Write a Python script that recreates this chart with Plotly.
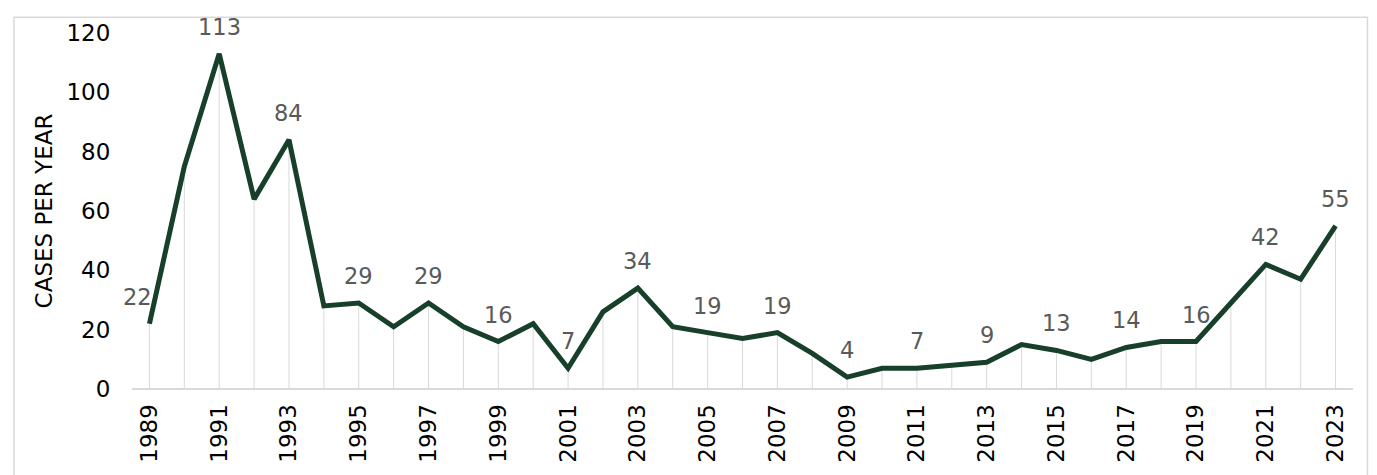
import plotly.graph_objects as go

years = list(range(1989, 2024))
cases = [22, 75, 113, 64, 84, 28, 29, 21, 29, 21,
         16, 22, 7, 26, 34, 21, 19, 17, 19, 12,
         4, 7, 7, 8, 9, 15, 13, 10, 14, 16,
         16, 29, 42, 37, 55]
tick_years = list(range(1989, 2024, 2))
y_ticks = [0, 20, 40, 60, 80, 100, 120]

FONT = "DejaVu Sans, Verdana, sans-serif"
LINE_COLOR = "#173f2a"

fig = go.Figure()

# drop lines from each point to the axis
fig.add_trace(go.Scatter(
    x=years, y=cases, mode="markers",
    marker=dict(size=1, opacity=0),
    error_y=dict(type="data", symmetric=False, array=[0] * len(cases),
                 arrayminus=cases, color="#d9d9d9", thickness=1, width=0),
    hoverinfo="skip", showlegend=False,
))

fig.add_trace(go.Scatter(
    x=years, y=cases, mode="lines",
    line=dict(color=LINE_COLOR, width=5),
    showlegend=False,
))

# data labels for odd years
for yr, v in zip(years, cases):
    if yr in tick_years:
        fig.add_annotation(
            x=yr, y=v, text=str(v), showarrow=False,
            xanchor="center", yanchor="middle",
            yshift=27, xshift=-12 if yr == years[0] else 0,
            font=dict(family=FONT, size=22.5, color="#595959"),
        )

# outer chart border (page body adds an 8px offset)
fig.add_shape(type="rect", xref="paper", yref="paper",
              x0=-118 / 1221, x1=1235.5 / 1221, y0=-0.3, y1=376 / 360,
              line=dict(color="#d9d9d9", width=1.5), layer="below")

fig.update_layout(
    width=1369, height=467,
    margin=dict(l=124, r=24, t=22, b=85),
    paper_bgcolor="white", plot_bgcolor="white",
    font=dict(family=FONT, color="black"),
    xaxis=dict(
        range=[1988.5, 2023.5],
        tickmode="array", tickvals=tick_years,
        ticktext=[str(t) for t in tick_years],
        tickangle=-90, tickfont=dict(size=23, color="black"),
        showgrid=False, zeroline=False,
        showline=False, ticks="outside", ticklen=5, tickcolor="white",
    ),
    yaxis=dict(
        range=[0, 120],
        tickmode="array", tickvals=y_ticks,
        tickfont=dict(size=23, color="black"),
        showgrid=False, zeroline=True, zerolinecolor="#d9d9d9", zerolinewidth=1.5,
        showline=False, ticks="outside", ticklen=16, tickcolor="white",
        title=dict(text="CASES PER YEAR", font=dict(size=23, color="black"), standoff=7),
    ),
)

fig.write_html("out.html")
